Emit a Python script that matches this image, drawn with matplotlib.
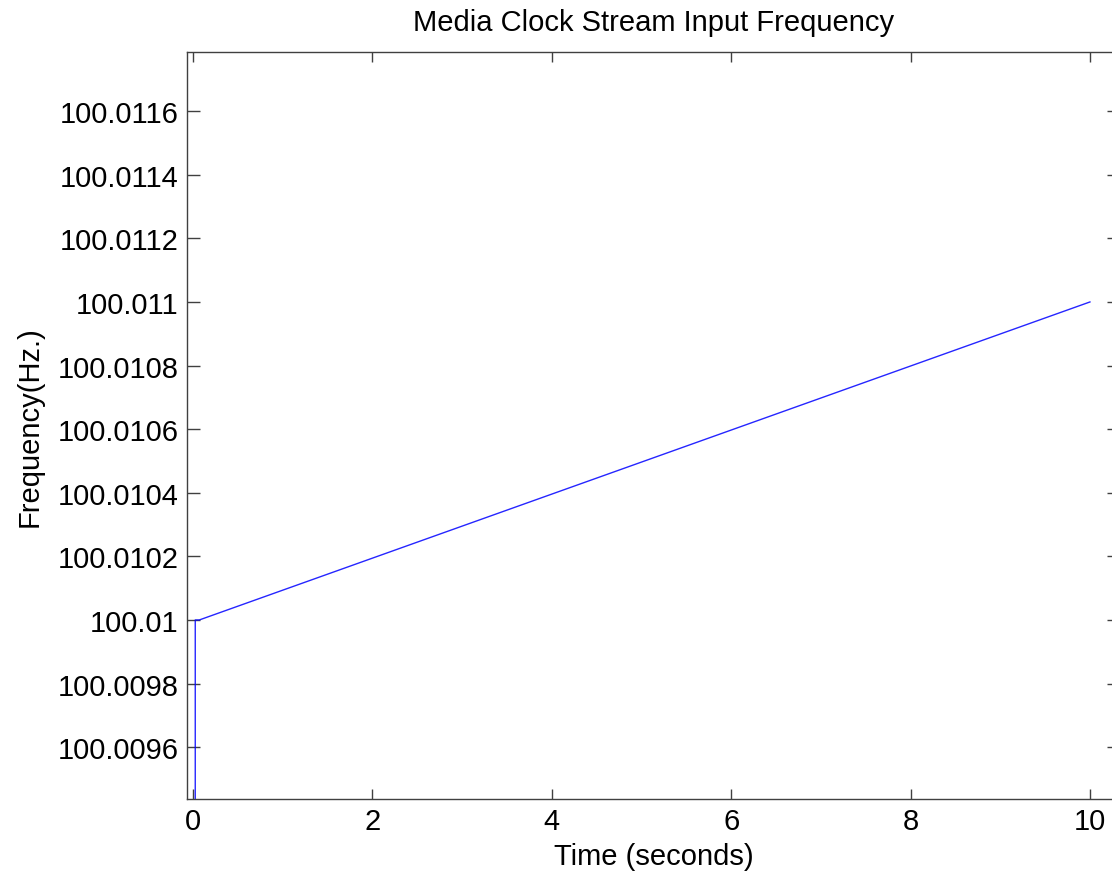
import matplotlib
matplotlib.use("Agg")
import matplotlib.pyplot as plt
from matplotlib.ticker import FixedLocator, FuncFormatter

# data
time_s = [0.025, 0.025, 0.07, 10.0]
freq_hz = [100.0, 100.01, 100.01, 100.011]

x_ticks = [0, 2, 4, 6, 8, 10]
y_ticks = [100.0096, 100.0098, 100.01, 100.0102, 100.0104, 100.0106,
           100.0108, 100.011, 100.0112, 100.0114, 100.0116]

plt.rcParams["font.family"] = ["Liberation Sans", "DejaVu Sans"]

AX_COLOR = "#404040"

fig = plt.figure(figsize=(11.12, 8.78), dpi=100)
ax = fig.add_axes([187 / 1112, 78 / 878, (1120 - 187) / 1112, (800 - 53) / 878])

ax.plot(time_s, freq_hz, color="#0000ff", linewidth=1.0, alpha=0.85)

ax.set_xlim(-0.067, 10.335)
ax.set_ylim(100.009437, 100.011786)

ax.xaxis.set_major_locator(FixedLocator(x_ticks))
ax.yaxis.set_major_locator(FixedLocator(y_ticks))
ax.xaxis.set_major_formatter(FuncFormatter(lambda v, p: f"{v:g}"))
ax.yaxis.set_major_formatter(FuncFormatter(lambda v, p: f"{round(v, 6):.7g}"))
ax.tick_params(direction="in", width=1, color=AX_COLOR,
               top=True, right=True, labelsize=21, labelcolor="black")
ax.tick_params(axis="x", length=7.2, pad=6)
ax.tick_params(axis="y", length=9.4, pad=6)

for s in ax.spines.values():
    s.set_color(AX_COLOR)
    s.set_linewidth(1.0)

ax.set_title("Media Clock Stream Input Frequency", fontsize=21, pad=16)
ax.set_xlabel("Time (seconds)", fontsize=21, labelpad=5)
ax.set_ylabel("Frequency(Hz.)", fontsize=21, labelpad=10)

fig.savefig("out.png", dpi=100)
